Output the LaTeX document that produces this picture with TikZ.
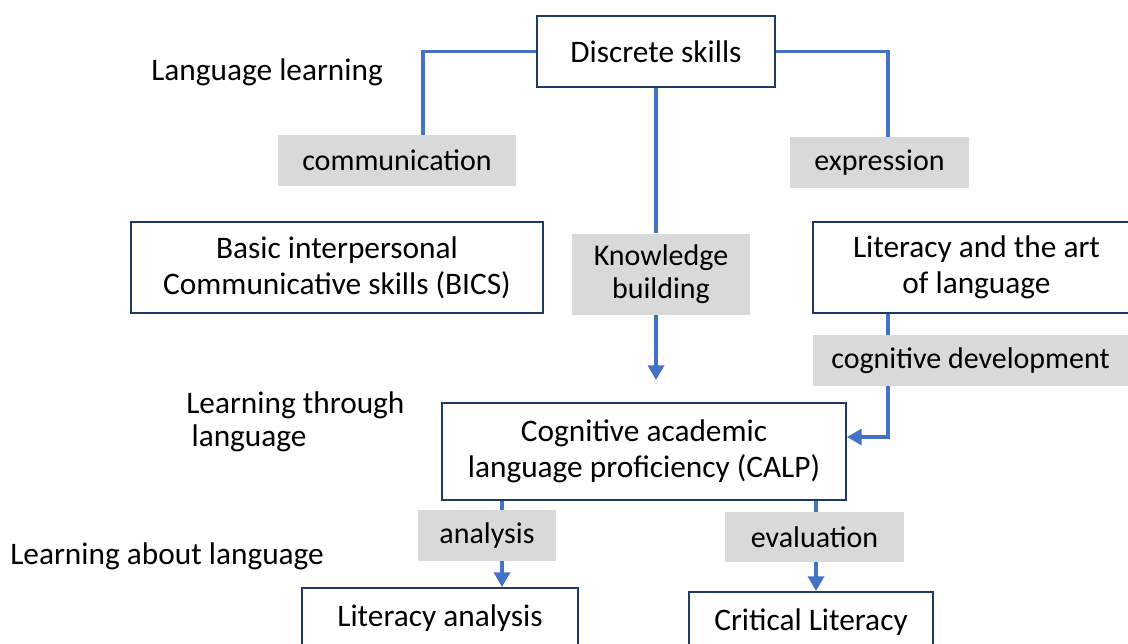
\documentclass[tikz,border=0pt]{standalone}
\usepackage{fontspec}
\setmainfont{Carlito}
\usetikzlibrary{arrows.meta,calc}

\definecolor{boxline}{HTML}{1F3864}
\definecolor{linkblue}{HTML}{4472C4}
\definecolor{tagfill}{HTML}{D9D9D9}

\tikzset{
  skill/.style={draw=boxline, line width=1.5pt, fill=white, align=center, inner sep=0pt, font=\fontsize{23.5}{27}\selectfont},
  tag/.style={fill=tagfill, align=center, inner sep=0pt, font=\fontsize{22.5}{25}\selectfont},
  side/.style={align=left, inner sep=0pt, font=\fontsize{23.5}{25}\selectfont},
  link/.style={draw=linkblue, line width=2.5pt},
  linkarrow/.style={link, -{Triangle[length=11pt, width=12pt]}}
}

\begin{document}
\begin{tikzpicture}[x=0.75pt, y=-0.75pt]
\clip (0,0) rectangle (1128,643);

% guides for the vertical connectors
\coordinate (lx) at (423,0);
\coordinate (mx) at (656,0);
\coordinate (rx) at (888,0);
\coordinate (ry) at (0,437);
\coordinate (ax) at (502,0);
\coordinate (ex) at (816,0);

\node[skill, minimum width=178.5pt, minimum height=53.25pt] (disc) at (656,51.5) {Discrete skills};
\node[tag, minimum width=178.5pt, minimum height=38.25pt] (comm) at (397,160.5) {communication};
\node[tag, minimum width=134.25pt, minimum height=38.25pt] (expr) at (879.5,162.5) {expression};
\node[tag, minimum width=133.5pt, minimum height=60.75pt] (know) at (661,274) {Knowledge\\building};

\node[skill, minimum width=309pt, minimum height=68.25pt] (bics) at (337,267.5) {Basic interpersonal\\Communicative skills (BICS)};
\node[skill, minimum width=245.25pt, minimum height=68.25pt] (litart) at (976.5,267.5) {Literacy and the art\\of language};
\node[tag, minimum width=236.25pt, minimum height=38.25pt] (cogdev) at (970.5,360.5) {cognitive development};

\node[skill, minimum width=303pt, minimum height=72.75pt] (calp) at (644,451.5) {Cognitive academic\\language proficiency (CALP)};
\node[tag, minimum width=103.5pt, minimum height=38.25pt] (ana) at (487,535.5) {analysis};
\node[tag, minimum width=134.25pt, minimum height=37.5pt] (eval) at (814.5,537) {evaluation};
\node[skill, minimum width=207pt, minimum height=45pt] (litan) at (440,618) {Literacy analysis};
\node[skill, minimum width=183pt, minimum height=45pt] (crit) at (811,622) {Critical Literacy};

\node[side, anchor=west] (ll) at (151,72) {Language learning};
\node[side, anchor=west] (lt) at (186,422) {Learning through\\\hspace{4pt}language};
\node[side, anchor=west] (la) at (10,556) {Learning about language};

\draw[link] (disc.west) -| (comm.north -| lx);
\draw[link] (disc.east) -| (expr.north -| rx);
\draw[link] (disc.south) -- (know.north -| mx);
\draw[linkarrow, shorten >=16.5pt] (know.south -| mx) -- (calp.north -| mx);

\draw[link] (litart.south -| rx) -- (cogdev.north -| rx);
\draw[linkarrow] (cogdev.south -| rx) |- (calp.east |- ry);

\draw[link] (calp.south -| ax) -- (ana.north -| ax);
\draw[linkarrow] (ana.south -| ax) -- (litan.north -| ax);
\draw[link] (calp.south -| ex) -- (eval.north -| ex);
\draw[linkarrow] (eval.south -| ex) -- (crit.north -| ex);
\end{tikzpicture}
\end{document}
